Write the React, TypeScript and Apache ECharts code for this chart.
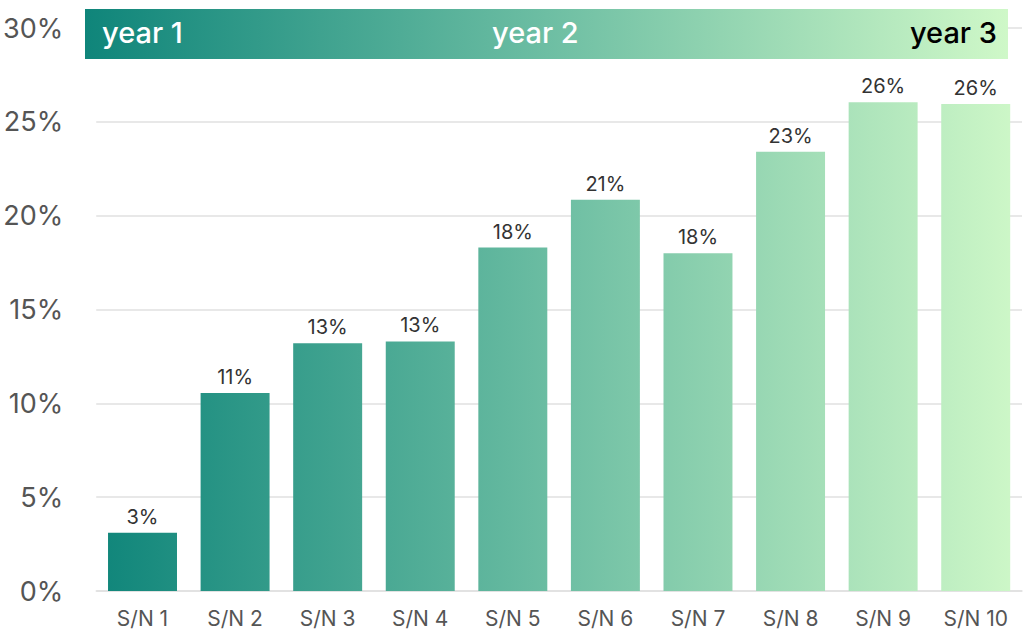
import React, { useEffect, useRef } from "react";
import * as echarts from "echarts";

const categories = ["S/N 1", "S/N 2", "S/N 3", "S/N 4", "S/N 5", "S/N 6", "S/N 7", "S/N 8", "S/N 9", "S/N 10"];
const values = [3.1, 10.55, 13.2, 13.3, 18.3, 20.85, 18.0, 23.4, 26.05, 25.95];
const yTicks = [0, 5, 10, 15, 20, 25, 30];
const bannerLabels = ["year 1", "year 2", "year 3"];

const FONT = "Inter, 'Noto Sans', sans-serif";

export default function App() {
  const ref = useRef<HTMLDivElement>(null);
  useEffect(() => {
    if (!ref.current) return;
    const chart = echarts.init(ref.current, undefined, { renderer: "svg" });
    const barGrad = new echarts.graphic.LinearGradient(
      95, 0, 1022, 0,
      [
        { offset: 0, color: "#0f857a" },
        { offset: 0.5, color: "#6dbea3" },
        { offset: 1, color: "#cff8c8" },
      ],
      true
    );
    const bannerGrad = new echarts.graphic.LinearGradient(0, 0, 1, 0, [
      { offset: 0, color: "#0f857a" },
      { offset: 0.5, color: "#6dbea3" },
      { offset: 1, color: "#cff8c8" },
    ]);
    chart.setOption({
      animation: false,
      grid: { left: 95, right: 2, top: 28, bottom: 53, containLabel: false },
      xAxis: {
        type: "category",
        data: categories,
        axisLine: { show: true, lineStyle: { color: "#e0e0e0", width: 1.5 } },
        axisTick: { show: false },
        axisLabel: { color: "#555", fontSize: 21, fontFamily: FONT, margin: 17 },
      },
      yAxis: {
        type: "value",
        min: yTicks[0],
        max: yTicks[yTicks.length - 1],
        interval: 5,
        axisLine: { show: false },
        axisTick: { show: false },
        axisLabel: {
          color: "#555",
          fontSize: 27,
          fontFamily: FONT,
          margin: 33,
          formatter: (v: number) => `${v}%`,
        },
        splitLine: { lineStyle: { color: "#e0e0e0", width: 1.5 } },
      },
      series: [
        {
          type: "bar",
          data: values,
          barCategoryGap: "25.5%",
          itemStyle: { color: barGrad },
          label: {
            show: true,
            position: "top",
            distance: 6,
            color: "#333",
            fontSize: 20,
            fontFamily: FONT,
            formatter: (p: any) => `${Math.round(p.value)}%`,
          },
        },
      ],
      graphic: [
        {
          type: "rect",
          left: 85,
          top: 9,
          shape: { width: 923, height: 50 },
          style: { fill: bannerGrad },
          z: 100,
        },
        {
          type: "text",
          left: 102,
          top: 18,
          z: 101,
          style: { text: bannerLabels[0], fill: "#fff", fontSize: 29, fontWeight: 500, fontFamily: FONT },
        },
        {
          type: "text",
          left: 492,
          top: 18,
          z: 101,
          style: { text: bannerLabels[1], fill: "#fff", fontSize: 29, fontWeight: 500, fontFamily: FONT },
        },
        {
          type: "text",
          right: 27,
          top: 18,
          z: 101,
          style: { text: bannerLabels[2], fill: "#000", fontSize: 29, fontWeight: 500, fontFamily: FONT },
        },
      ],
    });
    return () => chart.dispose();
  }, []);
  return (
    <div
      ref={ref}
      style={{ position: "fixed", left: 0, top: 0, width: 1024, height: 644, background: "#fff" }}
    />
  );
}
